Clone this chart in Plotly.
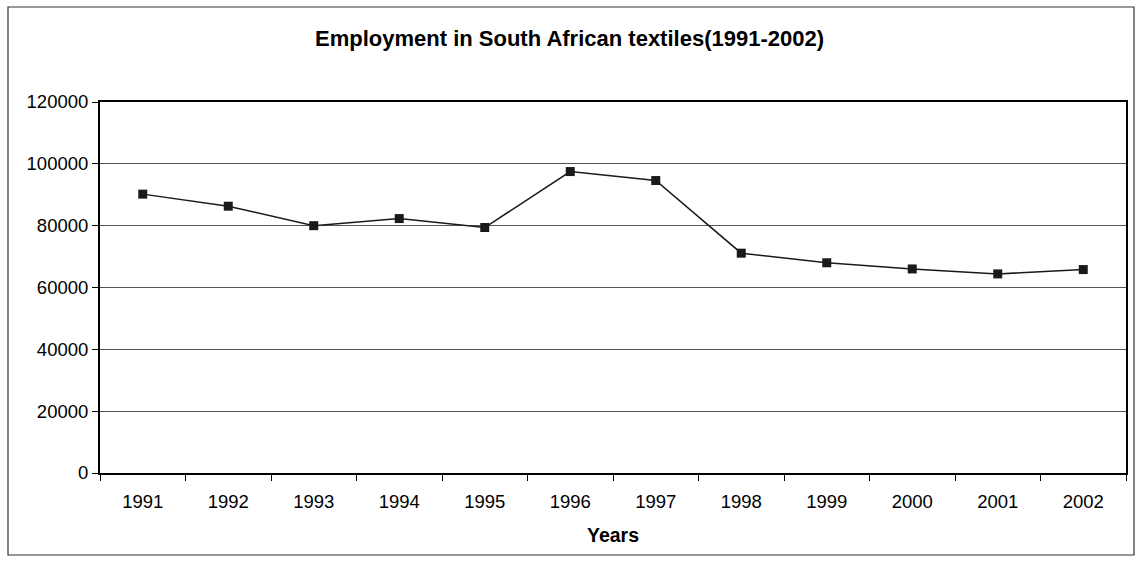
import plotly.graph_objects as go

years = ["1991", "1992", "1993", "1994", "1995", "1996",
         "1997", "1998", "1999", "2000", "2001", "2002"]
employment = [90200, 86300, 80000, 82300, 79400, 97500,
              94600, 71100, 68000, 66000, 64400, 65800]
y_ticks = [0, 20000, 40000, 60000, 80000, 100000, 120000]

W, H = 1139, 567
L, R, T, B = 100, 13, 102, 94
pw, ph = W - L - R, H - T - B


def px_to_paper(x, y):
    return (x - L) / pw, (H - B - y) / ph


fig = go.Figure(
    go.Scatter(
        x=years,
        y=employment,
        mode="lines+markers",
        line=dict(color="#1a1a1a", width=1.5),
        marker=dict(symbol="square", size=9, color="#1a1a1a"),
        showlegend=False,
    )
)

x0, y0 = px_to_paper(8, 7)
x1, y1 = px_to_paper(1134, 555)
fig.add_shape(type="rect", xref="paper", yref="paper",
              x0=x0, y0=y1, x1=x1, y1=y0,
              line=dict(color="#333333", width=1.2), layer="below")

font = "Liberation Sans, Arial, sans-serif"
fig.update_layout(
    width=W, height=H,
    margin=dict(l=L, r=R, t=T, b=B),
    paper_bgcolor="white",
    plot_bgcolor="white",
    font=dict(family=font, size=18.5, color="black"),
    title=dict(text="<b>Employment in South African textiles(1991-2002)</b>",
               x=0.5, xanchor="center", y=1 - 38 / H, yanchor="middle",
               font=dict(size=22, family=font, color="black")),
    xaxis=dict(
        type="category",
        range=[-0.5, len(years) - 0.5],
        tickson="boundaries",
        ticks="outside", ticklen=6, tickcolor="black", tickwidth=1,
        ticklabelstandoff=11,
        showline=True, linecolor="black", linewidth=2, mirror=True,
        showgrid=False,
        title=dict(text="<b>Years</b>", font=dict(size=19.5), standoff=17),
    ),
    yaxis=dict(
        range=[0, 120000],
        tickvals=y_ticks,
        ticktext=[str(v) for v in y_ticks],
        ticks="outside", ticklen=6, tickcolor="black",
        showline=True, linecolor="black", linewidth=2, mirror=True,
        showgrid=True, gridcolor="#555555", gridwidth=1,
        zeroline=False,
    ),
)

fig.write_html("out.html")
